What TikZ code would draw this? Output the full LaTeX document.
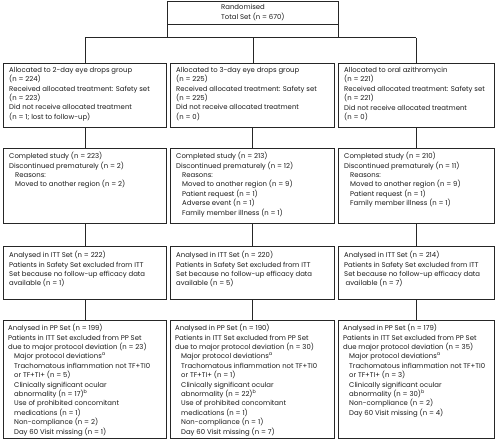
\documentclass[tikz,border=0pt]{standalone}
\usepackage{fontspec}
\setmainfont{Poppins}
\begin{document}
\begin{tikzpicture}[x=1pt,y=-1pt,
  boxline/.style={draw=black!85,line width=0.7pt,anchor=north west,inner sep=0pt},
  conn/.style={draw=black!85,line width=0.7pt},
  txt/.style={anchor=north west,inner sep=0pt,align=left,text=black!90,
    font=\fontsize{6.9}{9.4}\selectfont}]
\useasboundingbox (0,0) rectangle (497,441);
\newcommand\ind{\hspace*{6pt}}
% top box
\node[boxline,minimum width=171pt,minimum height=36pt] (top) at (167,1) {};
\draw[boxline] (167,24) -- (338,24);
\node[txt,font=\fontsize{6.9}{10.2}\selectfont] (toptxt) at (221,4) {Randomised\\Total Set (n = 670)};
% row 1
\node[boxline,minimum width=163pt,minimum height=64pt] (a1) at (3,63) {};
\node[boxline,minimum width=164pt,minimum height=64pt] (b1) at (170,63) {};
\node[boxline,minimum width=156pt,minimum height=64pt] (c1) at (338,63) {};
\node[txt] (a1t) at (9,67) {Allocated to 2-day eye drops group\\(n = 224)\\Received allocated treatment: Safety set\\(n = 223)\\Did not receive allocated treatment\\(n = 1; lost to follow-up)};
\node[txt] (b1t) at (176,67) {Allocated to 3-day eye drops group\\(n = 225)\\Received allocated treatment: Safety set\\(n = 225)\\Did not receive allocated treatment\\(n = 0)};
\node[txt] (c1t) at (344,67) {Allocated to oral azithromycin\\(n = 221)\\Received allocated treatment: Safety set\\(n = 221)\\Did not receive allocated treatment\\(n = 0)};
% row 2
\node[boxline,minimum width=163pt,minimum height=75pt] (a2) at (3,148) {};
\node[boxline,minimum width=164pt,minimum height=75pt] (b2) at (170,148) {};
\node[boxline,minimum width=156pt,minimum height=75pt] (c2) at (338,148) {};
\node[txt] (a2t) at (9,152) {Completed study (n = 223)\\Discontinued prematurely (n = 2)\\\ind Reasons:\\\ind Moved to another region (n = 2)};
\node[txt] (b2t) at (176,152) {Completed study (n = 213)\\Discontinued prematurely (n = 12)\\\ind Reasons:\\\ind Moved to another region (n = 9)\\\ind Patient request (n = 1)\\\ind Adverse event (n = 1)\\\ind Family member illness (n = 1)};
\node[txt] (c2t) at (344,152) {Completed study (n = 210)\\Discontinued prematurely (n = 11)\\\ind Reasons:\\\ind Moved to another region (n = 9)\\\ind Patient request (n = 1)\\\ind Family member illness (n = 1)};
% row 3
\node[boxline,minimum width=163pt,minimum height=53pt] (a3) at (3,246) {};
\node[boxline,minimum width=164pt,minimum height=53pt] (b3) at (170,246) {};
\node[boxline,minimum width=156pt,minimum height=53pt] (c3) at (338,246) {};
\node[txt] (a3t) at (9,251) {Analysed in ITT Set (n = 222)\\Patients in Safety Set excluded from ITT\\Set because no follow-up efficacy data\\available (n = 1)};
\node[txt] (b3t) at (176,251) {Analysed in ITT Set (n = 220)\\Patients in Safety Set excluded from ITT\\Set because no follow-up efficacy data\\available (n = 5)};
\node[txt] (c3t) at (344,251) {Analysed in ITT Set (n = 214)\\Patients in Safety Set excluded from ITT\\Set because no follow-up efficacy data\\\hspace*{1.5pt}available (n = 7)};
% row 4
\node[boxline,minimum width=163pt,minimum height=118pt] (a4) at (3,320) {};
\node[boxline,minimum width=164pt,minimum height=118pt] (b4) at (170,320) {};
\node[boxline,minimum width=156pt,minimum height=118pt] (c4) at (338,320) {};
\node[txt] (a4t) at (8,324) {Analysed in PP Set (n = 199)\\Patients in ITT Set excluded from PP Set\\due to major protocol deviation (n = 23)\\\ind Major protocol deviations\textsuperscript{a}\\\ind Trachomatous inflammation not TF+TI0\\\ind or TF+TI+ (n = 5)\\\ind Clinically significant ocular\\\ind abnormality (n = 17)\textsuperscript{b}\\\ind Use of prohibited concomitant\\\ind medications (n = 1)\\\ind Non-compliance (n = 2)\\\ind Day 60 Visit missing (n = 1)};
\node[txt] (b4t) at (175,324) {Analysed in PP Set (n = 190)\\Patients in ITT Set excluded from PP Set\\due to major protocol deviation (n = 30)\\\ind Major protocol deviations\textsuperscript{a}\\\ind Trachomatous inflammation not TF+TI0\\\ind or TF+TI+ (n = 1)\\\ind Clinically significant ocular\\\ind abnormality (n = 22)\textsuperscript{b}\\\ind Use of prohibited concomitant\\\ind medications (n = 1)\\\ind Non-compliance (n = 1)\\\ind Day 60 Visit missing (n = 7)};
\node[txt] (c4t) at (343,324) {Analysed in PP Set (n = 179)\\Patients in ITT Set excluded from PP Set\\due major protocol deviation (n = 35)\\\ind Major protocol deviations\textsuperscript{a}\\\ind Trachomatous inflammation not TF+TI0\\\ind or TF+TI+ (n = 3)\\\ind Clinically significant ocular\\\ind abnormality (n = 30)\textsuperscript{b}\\\ind Non-compliance (n = 2)\\\ind Day 60 Visit missing (n = 4)};
% connectors
\coordinate (jl) at (a1.north |- top.south);
\coordinate (jr) at (c1.north |- top.south);
\draw[conn] (jl) -- (jr);
\draw[conn] (jl) -- (a1.north);
\draw[conn] (jr) -- (c1.north);
\draw[conn] (top.south) -- (top.south |- b1.north);
\foreach \r/\s in {1/2,2/3,3/4}{
  \draw[conn] (a\r.south) -- (a\s.north);
  \draw[conn] (b\r.south) -- (b\s.north);
  \draw[conn] (c\r.south) -- (c\s.north);
}
\end{tikzpicture}
\end{document}
